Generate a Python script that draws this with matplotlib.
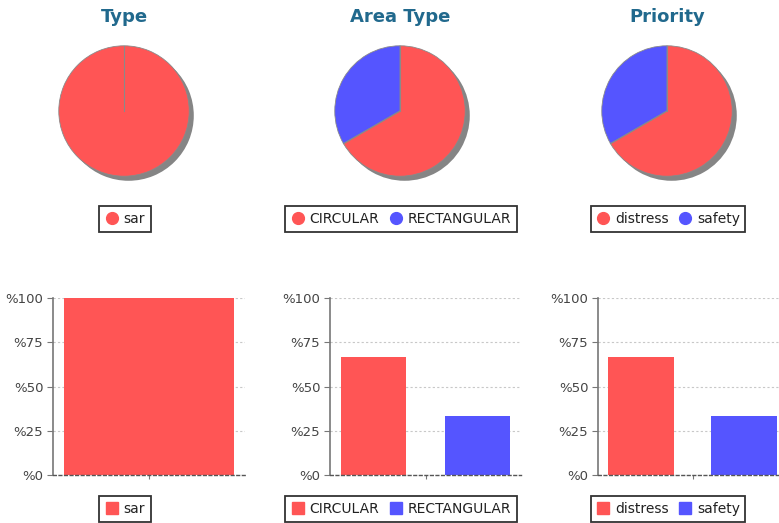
import numpy as np
import matplotlib.pyplot as plt
from matplotlib.lines import Line2D

# data (counts)
panel_titles = ["Type", "Area Type", "Priority"]
type_labels = ["sar"]
type_counts = [3]
area_labels = ["CIRCULAR", "RECTANGULAR"]
area_counts = [2, 1]
prio_labels = ["distress", "safety"]
prio_counts = [2, 1]

y_ticks = [0, 25, 50, 75, 100]
y_ticklabels = ["%0", "%25", "%50", "%75", "%100"]

colors = ["#FF5555", "#5555FF"]
title_color = "#21698D"
text_color = "#444444"

W, H = 779, 523
fig = plt.figure(figsize=(W / 100, H / 100), dpi=100)
plt.rcParams['font.family'] = ['DejaVu Sans']


def px_axes(x, y, w, h):
    # pixel box (top-left origin) -> figure axes
    return fig.add_axes([x / W, 1 - (y + h) / H, w / W, h / H])


def legend_at(cx, cy, labels, marker):
    handles = [Line2D([], [], ls="", marker=marker, ms=8.5, mfc=c, mec=c)
               for c in colors[:len(labels)]]
    leg = fig.legend(handles, labels, loc="center", bbox_to_anchor=(cx / W, 1 - cy / H),
                     ncol=len(labels), fontsize=10, frameon=True, fancybox=False,
                     handlelength=1.0, handletextpad=0.35, columnspacing=0.7,
                     borderpad=0.4, borderaxespad=0)
    fr = leg.get_frame()
    fr.set_edgecolor("black")
    fr.set_linewidth(1.3)
    for t in leg.get_texts():
        t.set_color("#222222")


panels = [(type_labels, type_counts), (area_labels, area_counts), (prio_labels, prio_counts)]
pie_cx = [124, 400, 667]
bar_left = [53, 330, 598]
bar_w = [192, 191, 189]

for i, (labels, counts) in enumerate(panels):
    cx = pie_cx[i]
    fig.text(cx / W, 1 - 17 / H, panel_titles[i], ha="center", va="center",
             fontsize=13, fontweight="bold", color=title_color)

    # pie with drop shadow
    ax = px_axes(cx - 75, 111 - 75, 150, 150)
    ax.pie(counts, colors=["#858585"] * len(counts), startangle=90, counterclock=False,
           center=(0.07, -0.07), wedgeprops=dict(linewidth=0))
    wedges, _ = ax.pie(counts, colors=colors[:len(counts)], startangle=90, counterclock=False,
                       wedgeprops=dict(edgecolor="#8a8a8a", linewidth=0.6))
    for w in wedges:
        a = np.deg2rad(w.theta1)
        ax.plot([0, np.cos(a)], [0, np.sin(a)], color="#8a8a8a", lw=0.8)
    ax.set_xlim(-1.15, 1.15)
    ax.set_ylim(-1.15, 1.15)
    ax.set_aspect("equal")
    ax.axis("off")
    legend_at(cx + 1, 219, labels, "o")

    # percentage bars
    pct = np.array(counts) / sum(counts) * 100
    n = len(counts)
    margin, gap = 0.055, 0.2
    bw = (1 - 2 * margin - gap * (n - 1)) / n
    xs = margin + bw / 2 + np.arange(n) * (bw + gap)
    bx = px_axes(bar_left[i], 298, bar_w[i], 177)
    bx.bar(xs, pct, width=bw, color=colors[:n], zorder=2)
    bx.set_xlim(0, 1)
    bx.set_ylim(0, 100)
    bx.set_yticks(y_ticks)
    bx.set_yticklabels(y_ticklabels)
    bx.set_xticks([xs.mean()])
    bx.set_xticklabels([""])
    bx.grid(axis="y", color="#c8c8c8", linestyle=(0, (2, 2)), linewidth=0.8, zorder=0)
    for s in ["top", "right"]:
        bx.spines[s].set_visible(False)
    bx.spines["left"].set_color("#777777")
    bx.spines["left"].set_linewidth(1.2)
    bx.spines["bottom"].set_color("#555555")
    bx.spines["bottom"].set_linestyle((0, (2, 2)))
    bx.spines["bottom"].set_linewidth(1.0)
    bx.tick_params(axis="y", colors="#777777", labelcolor=text_color, labelsize=9.5, length=4, pad=3)
    bx.tick_params(axis="x", colors="#777777", length=3)
    legend_at(cx + 1, 509, labels, "s")

fig.savefig("out.png", dpi=100)
